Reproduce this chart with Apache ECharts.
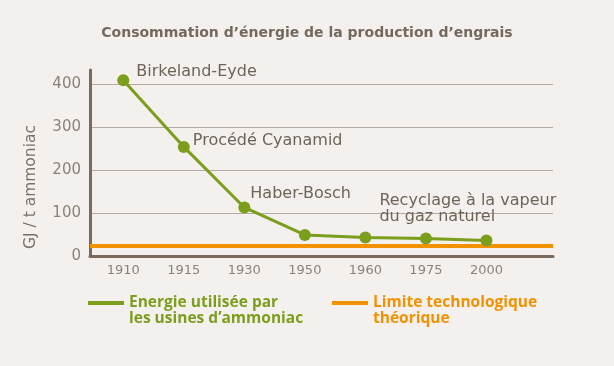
<!DOCTYPE html>
<html><head><meta charset="utf-8">
<script src="https://cdn.jsdelivr.net/npm/echarts@6/dist/echarts.min.js"></script>
<style>html,body{margin:0;padding:0;background:#f3f0ed}#c{width:614px;height:366px}</style>
</head><body><div id="c"></div>
<script>
const years = ['1910','1915','1930','1950','1960','1975','2000'];
const energy = [409, 254, 113, 49, 43, 41, 36];
const annotations = ['Birkeland-Eyde','Procédé Cyanamid','Haber-Bosch','','Recyclage à la vapeur\ndu gaz naturel','',''];
const limitValue = 24;
const yTicks = [0, 100, 200, 300, 400];

const labelOffsets = [[2,-8],[-2,-6],[-5,-14],[0,0],[3,-29],[0,0],[0,0]];
const brown = '#6f6458';
const green = '#7c9e1d';
const orange = '#f39200';
const font = 'DejaVu Sans';
const legendIcon = 'path://M0,0h36v4h-36z M0,19.9h0.1v0.1h-0.1z';

const data = energy.map((v,i)=>({
  value:[i,v],
  label: annotations[i] ? {show:true, formatter: annotations[i], position:'right', offset: labelOffsets[i]} : {show:false}
}));

const chart = echarts.init(document.getElementById('c'), null, {renderer:'canvas'});
chart.setOption({
  backgroundColor:'#f3f0ed',
  animation:false,
  title:{text:'Consommation d\u2019énergie de la production d\u2019engrais', left:'center', top:21,
    textStyle:{color:'#75695e', fontSize:14, fontWeight:'bold', fontFamily:font}},
  grid:{left:90, right:61, top:70, bottom:110},
  xAxis:{type:'value', min:-0.55, max:7.1,
    axisLine:{show:true, lineStyle:{color:'#7a6b5d', width:3}},
    axisTick:{show:false},
    splitLine:{show:false},
    axisLabel:{customValues:[0,1,2,3,4,5,6], formatter:(v)=>years[Math.round(v)], color:'#8c8279', fontSize:13, fontFamily:font, margin:8}
  },
  yAxis:{type:'value', min:0, max:433,
    name:'GJ / t ammoniac', nameLocation:'middle', nameRotate:90, nameGap:51,
    nameTextStyle:{color:'#7a7068', fontSize:15.5, fontFamily:font, padding:[0,48,0,0]},
    axisLine:{show:true, onZero:false, lineStyle:{color:'#7a6b5d', width:3}},
    axisTick:{show:false, customValues:yTicks},
    axisLabel:{customValues:yTicks, color:'#8c8279', fontSize:15, fontFamily:font, margin:9},
    splitLine:{show:true, customValues:yTicks, lineStyle:{color:'#b4aca4', width:1}}
  },
  legend:[
    {data:['Energie utilisée par\nles usines d\u2019ammoniac'], left:88, top:295, padding:0, itemWidth:36, itemHeight:20, icon:legendIcon,
      textStyle:{color:green, fontSize:15.5, fontWeight:'bold', fontFamily:'Open Sans', lineHeight:16}},
    {data:['Limite technologique\nthéorique'], left:332, top:295, padding:0, itemWidth:36, itemHeight:20, icon:legendIcon,
      textStyle:{color:orange, fontSize:15.5, fontWeight:'bold', fontFamily:'Open Sans', lineHeight:16}}
  ],
  series:[
    {name:'Limite technologique\nthéorique', type:'line', data:[], itemStyle:{color:orange}, lineStyle:{color:orange},
      markLine:{silent:true, symbol:'none', label:{show:false}, data:[{yAxis:limitValue}], lineStyle:{color:orange, width:4, type:'solid'}}},
    {name:'Energie utilisée par\nles usines d\u2019ammoniac', type:'line', data:data, symbol:'circle', symbolSize:12,
      itemStyle:{color:green}, lineStyle:{color:green, width:3},
      label:{color:brown, fontSize:16, fontFamily:font, lineHeight:16}, z:5}
  ]
});
</script></body></html>
